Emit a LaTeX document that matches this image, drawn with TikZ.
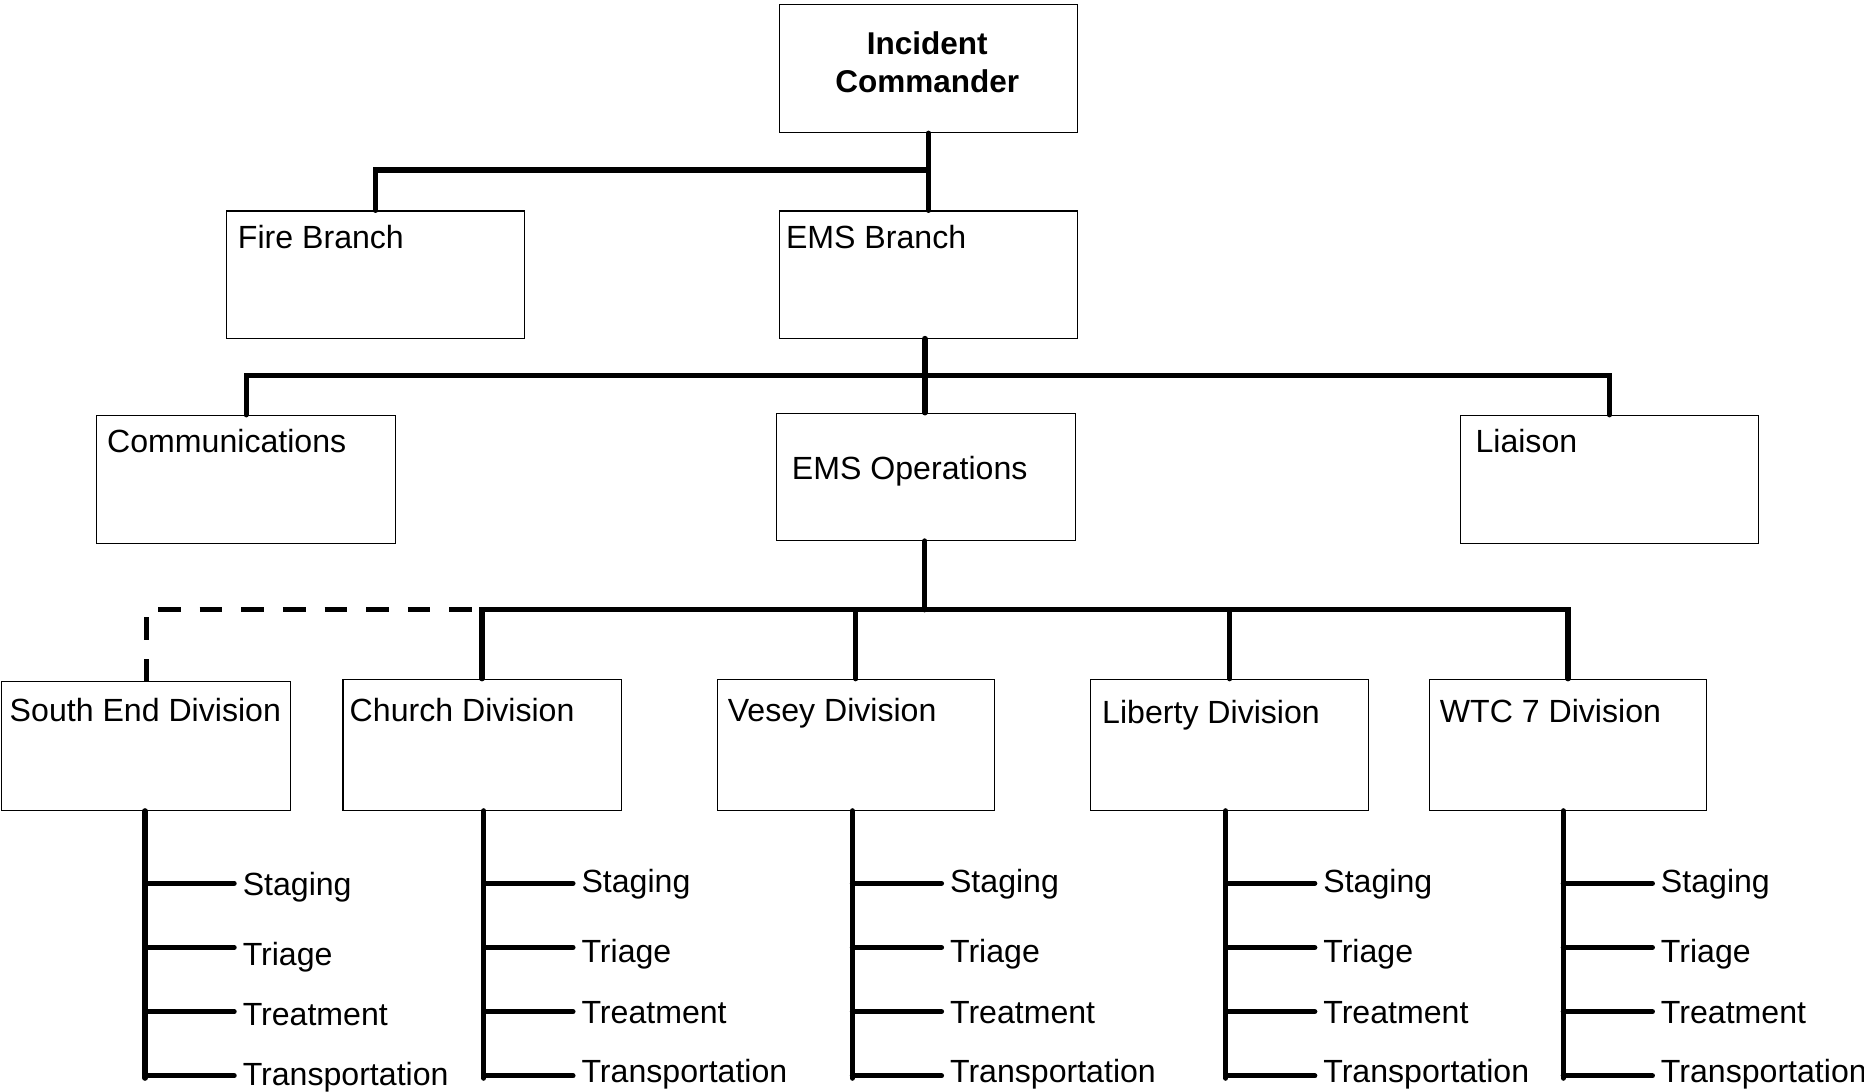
\documentclass[tikz,border=0pt]{standalone}
\usepackage{fontspec}
\setmainfont{Liberation Sans}
\begin{document}
\begin{tikzpicture}[x=1pt,y=-1pt,
  box/.style={draw=black, line width=1pt, fill=white, inner sep=0pt, anchor=north west},
  lbl/.style={inner sep=0pt, anchor=base west, font=\fontsize{27pt}{32pt}\selectfont},
  ttl/.style={inner sep=0pt, anchor=base, font=\fontsize{26.5pt}{32pt}\selectfont\bfseries},
  conn/.style={line width=4.3pt, line cap=round, black},
  dconn/.style={line width=4.3pt, black, dash pattern=on 19pt off 16pt}]
\useasboundingbox (0,0) rectangle (1568,918);

% boxes
\node[box, minimum width=251pt, minimum height=108pt] (ic) at (655,3) {};
\node[box, minimum width=251pt, minimum height=107pt] (fire) at (190,177) {};
\node[box, minimum width=251pt, minimum height=107pt] (emsb) at (655,177) {};
\node[box, minimum width=251pt, minimum height=108pt] (comm) at (81,349) {};
\node[box, minimum width=251pt, minimum height=107pt] (emsops) at (653,347) {};
\node[box, minimum width=251pt, minimum height=108pt] (liaison) at (1228,349) {};
\node[box, minimum width=243pt, minimum height=108pt] (south) at (1,573) {};
\node[box, minimum width=234pt, minimum height=110pt] (church) at (288,571) {};
\node[box, minimum width=233pt, minimum height=110pt] (vesey) at (603,571) {};
\node[box, minimum width=234pt, minimum height=110pt] (liberty) at (917,571) {};
\node[box, minimum width=233pt, minimum height=110pt] (wtc) at (1202,571) {};

% texts
\node[ttl] (ict1) at (780,46) {Incident};
\node[ttl] (ict2) at (780,78) {Commander};
\node[lbl] (firet) at (200,209) {Fire Branch};
\node[lbl] (emsbt) at (661,209) {EMS Branch};
\node[lbl] (commt) at (90,381) {Communications};
\node[lbl] (emsopst) at (666,403) {EMS Operations};
\node[lbl] (liaisont) at (1241,381) {Liaison};
\node[lbl] (southt) at (8,607) {South End Division};
\node[lbl] (churcht) at (294,607) {Church Division};
\node[lbl] (veseyt) at (612,607) {Vesey Division};
\node[lbl] (libertyt) at (927,609) {Liberty Division};
\node[lbl] (wtct) at (1211,608) {WTC 7 Division};

% buses
\coordinate (busA) at (780.5,143);
\coordinate (busB) at (778,316);
\coordinate (busC) at (778,513);

\draw[conn] (ic.south) -- (emsb.north);
\draw[conn] (fire.north) |- (busA);
\draw[conn, line width=5pt] (emsb.south -| busB) -- (emsops.north -| busB);
\draw[conn] (comm.north) |- (busB) -| (liaison.north);
\draw[conn] (emsops.south -| busC) -- (busC);
\draw[conn] (church.north) |- (busC) -| (wtc.north);
\draw[conn] (vesey.north) -- (vesey.north |- busC);
\draw[conn] (liberty.north) -- (liberty.north |- busC);
\draw[dconn] (south.north) |- (church.north |- busC);

% sub-branches
\foreach \n/\x/\dy in {south/122/2, church/407/0, vesey/717/0, liberty/1031/0, wtc/1315/0} {
  \draw[conn] (\n.south -| \x,0) -- (\x,907);
  \foreach \yy/\b/\t in {743/751/Staging, 797/810/Triage, 851/861/Treatment, 905/911/Transportation} {
    \draw[conn] (\x,\yy) -- (\x+75,\yy);
    \node[lbl] at (\x+82,\b+\dy) {\t};
  }
}
\end{tikzpicture}
\end{document}
